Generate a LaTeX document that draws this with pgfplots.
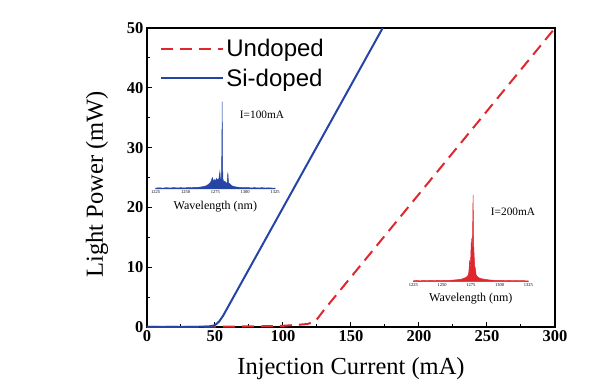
\documentclass[border=0pt]{standalone}
\usepackage{pgfplots}
\pgfplotsset{compat=1.18}
\usepackage{fontspec}
\setmainfont{Liberation Serif}
\setsansfont{Liberation Sans}
\definecolor{myred}{RGB}{222,40,45}
\definecolor{myblue}{RGB}{38,68,165}
\begin{document}
\begin{tikzpicture}[x=1pt,y=1pt]
\useasboundingbox (-147pt,-61pt) rectangle (458pt,327pt);
\begin{axis}[
  at={(0pt,0pt)}, anchor=south west,
  scale only axis, width=408pt, height=299pt,
  xmin=0, xmax=300, ymin=0, ymax=50,
  xtick={0,50,...,300}, ytick={0,10,...,50},
  minor x tick num=1, minor y tick num=1,
  tick pos=left, tick align=inside,
  major tick length=5pt, minor tick length=3pt,
  every tick/.style={black, line width=1pt},
  axis line style={line width=1.4pt},
  /pgf/number format/assume math mode=true,
  ticklabel style={font=\fontsize{16.5}{19}\selectfont\bfseries},
  xlabel={Injection Current (mA)},
  ylabel={Light Power (mW)},
  label style={font=\fontsize{24.5}{28}\selectfont},
  xlabel style={at={(axis description cs:0.5,0)}, anchor=center, yshift=-42pt},
  ylabel style={at={(axis description cs:0,0.478)}, anchor=center, yshift=50pt},
  legend style={draw=none, fill=none, at={(axis description cs:0.025,0.977)}, anchor=north west,
    font=\fontsize{24}{28}\selectfont\sffamily, row sep=7pt},
  legend cell align=left,
  legend image code/.code={\draw[#1] (0pt,0pt) -- (53pt,0pt); \path (0pt,0pt) -- (62pt,0pt);},
]
\addplot[myred, line width=2pt, dash pattern=on 12pt off 7pt] coordinates {
(0,0) (50,0.05) (80,0.1) (100,0.2) (110,0.35) (118,0.5) (122,0.8) (125,1.3) (130,2.8) (300,50)};
\addlegendentry{Undoped}
\addplot[myblue, line width=2pt] coordinates {
(0,0) (45,0.05) (50,0.3) (53,0.9) (56,1.9) (173.3,50)};
\addlegendentry{Si-doped}
\end{axis}

% inset 1: Si-doped, I=100mA
\begin{axis}[
  at={(8.7pt,138pt)}, anchor=south west,
  scale only axis, width=119.3pt, height=87.3pt,
  xmin=1225, xmax=1325, ymin=0, ymax=1,
  hide y axis, axis x line*=bottom,
  x axis line style={draw=none}, major tick length=0pt,
  xtick={1225,1250,1275,1300,1325},
  /pgf/number format/assume math mode=true,
  /pgf/number format/1000 sep={},
  xticklabel style={font=\fontsize{4.5}{5}\selectfont, inner sep=1.5pt},
  xlabel={Wavelength (nm)},
  xlabel style={font=\fontsize{12}{14}\selectfont, at={(axis description cs:0.5,0)}, anchor=center, yshift=-18pt},
  clip=false,
]
\addplot[myblue, fill=myblue, line width=0.5pt] coordinates {
(1225,0.01) (1228,0.014) (1231,0.01) (1234,0.015) (1237,0.011) (1240,0.016) (1243,0.012) (1246,0.015) (1249,0.012) (1252,0.016) (1255,0.014) (1258,0.018) (1261,0.02) (1264,0.025) (1267,0.035) (1269,0.05) (1270.5,0.07) (1271.5,0.09) (1272.5,0.13) (1273.3,0.08) (1274,0.11) (1275,0.09) (1276,0.12) (1277,0.1) (1278,0.12) (1278.8,0.2) (1279.3,0.1) (1280.1,0.12) (1280.5,0.5) (1280.7,1.0) (1280.9,0.45) (1281.3,0.12) (1282,0.08) (1283,0.09) (1284,0.06) (1285,0.08) (1285.5,0.19) (1286,0.07) (1287,0.06) (1288.5,0.04) (1290,0.03) (1293,0.022) (1296,0.018) (1299,0.015) (1302,0.016) (1305,0.013) (1308,0.015) (1311,0.012) (1314,0.015) (1317,0.011) (1320,0.014) (1323,0.01) (1325,0.01)} \closedcycle;
\end{axis}
\node[font=\fontsize{11.3}{13}\selectfont] at (115pt,212pt) {I=100mA};

% inset 2: Undoped, I=200mA
\begin{axis}[
  at={(266.3pt,45.3pt)}, anchor=south west,
  scale only axis, width=115pt, height=86.7pt,
  xmin=1225, xmax=1325, ymin=0, ymax=1,
  hide y axis, axis x line*=bottom,
  x axis line style={draw=none}, major tick length=0pt,
  xtick={1225,1250,1275,1300,1325},
  /pgf/number format/assume math mode=true,
  /pgf/number format/1000 sep={},
  xticklabel style={font=\fontsize{4.5}{5}\selectfont, inner sep=1.5pt},
  xlabel={Wavelength (nm)},
  xlabel style={font=\fontsize{12}{14}\selectfont, at={(axis description cs:0.5,0)}, anchor=center, yshift=-16.5pt},
  clip=false,
]
\addplot[myred, fill=myred, line width=0.5pt] coordinates {
(1225,0.01) (1228,0.014) (1231,0.01) (1234,0.015) (1237,0.011) (1240,0.016) (1243,0.012) (1246,0.015) (1249,0.013) (1252,0.016) (1255,0.014) (1258,0.017) (1261,0.02) (1264,0.024) (1267,0.03) (1269,0.04) (1271,0.05) (1272.5,0.07) (1273.3,0.11) (1274,0.25) (1274.5,0.12) (1275,0.3) (1275.5,0.5) (1276,0.25) (1276.6,0.6) (1277,1.0) (1277.4,0.45) (1277.9,0.3) (1278.4,0.18) (1279,0.15) (1279.6,0.08) (1280.5,0.06) (1282,0.045) (1284,0.035) (1287,0.028) (1290,0.022) (1293,0.018) (1296,0.016) (1299,0.014) (1302,0.016) (1305,0.012) (1308,0.015) (1311,0.012) (1314,0.014) (1317,0.011) (1320,0.013) (1323,0.01) (1325,0.01)} \closedcycle;
\end{axis}
\node[font=\fontsize{11.3}{13}\selectfont] at (366pt,115.3pt) {I=200mA};
\end{tikzpicture}
\end{document}
